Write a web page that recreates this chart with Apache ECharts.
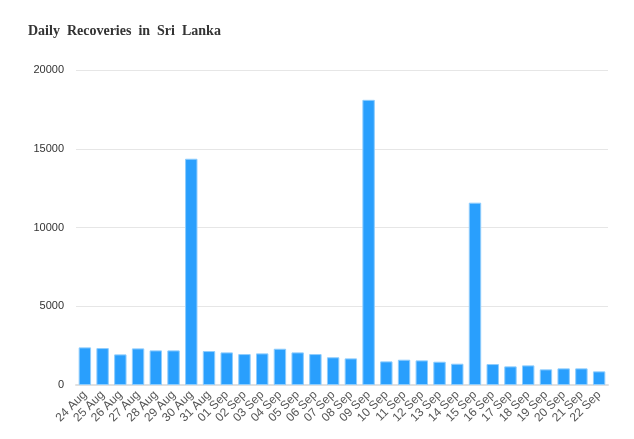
<!DOCTYPE html>
<html><head><meta charset="utf-8">
<script src="https://cdn.jsdelivr.net/npm/echarts@6/dist/echarts.min.js"></script>
<style>html,body{margin:0;padding:0;background:#fff}#c{width:634px;height:439px}</style>
</head><body><div id="c"></div>
<script>
var titleText = 'Daily  Recoveries  in  Sri  Lanka';
var categories = ['24 Aug','25 Aug','26 Aug','27 Aug','28 Aug','29 Aug','30 Aug','31 Aug','01 Sep','02 Sep','03 Sep','04 Sep','05 Sep','06 Sep','07 Sep','08 Sep','09 Sep','10 Sep','11 Sep','12 Sep','13 Sep','14 Sep','15 Sep','16 Sep','17 Sep','18 Sep','19 Sep','20 Sep','21 Sep','22 Sep'];
var recoveries = [2388,2345,1944,2324,2197,2197,14366,2155,2070,1965,2007,2303,2070,1965,1760,1690,18106,1500,1606,1563,1479,1352,11577,1331,1183,1246,993,1056,1056,866];
var yTicks = [0,5000,10000,15000,20000];

var chart = echarts.init(document.getElementById('c'), null, {renderer:'canvas'});
chart.setOption({
  animation:false,
  title:{text:titleText,left:23,top:19,textStyle:{fontFamily:'Liberation Serif',fontWeight:'bold',fontSize:14,color:'#333'}},
  grid:{left:76,right:26,top:70,bottom:54},
  xAxis:{type:'category',data:categories,
    axisLine:{lineStyle:{color:'#e0e0e0',width:2}},
    axisTick:{alignWithLabel:false,lineStyle:{color:'#e0e0e0'}},
    axisLabel:{rotate:45,interval:0,color:'#555',fontSize:12,fontFamily:'Liberation Sans',margin:8}},
  yAxis:{type:'value',min:yTicks[0],max:yTicks[yTicks.length-1],interval:5000,
    axisLine:{show:false},axisTick:{show:false},
    axisLabel:{color:'#333',fontSize:11,fontFamily:'Liberation Sans',margin:12,formatter:function(v){return String(v);}},
    splitLine:{lineStyle:{color:'#e6e6e6'}}},
  series:[{type:'bar',data:recoveries,barWidth:'70%',
    itemStyle:{color:'#299ffd',borderColor:'#8fcdfd',borderWidth:1}}]
});
</script></body></html>
